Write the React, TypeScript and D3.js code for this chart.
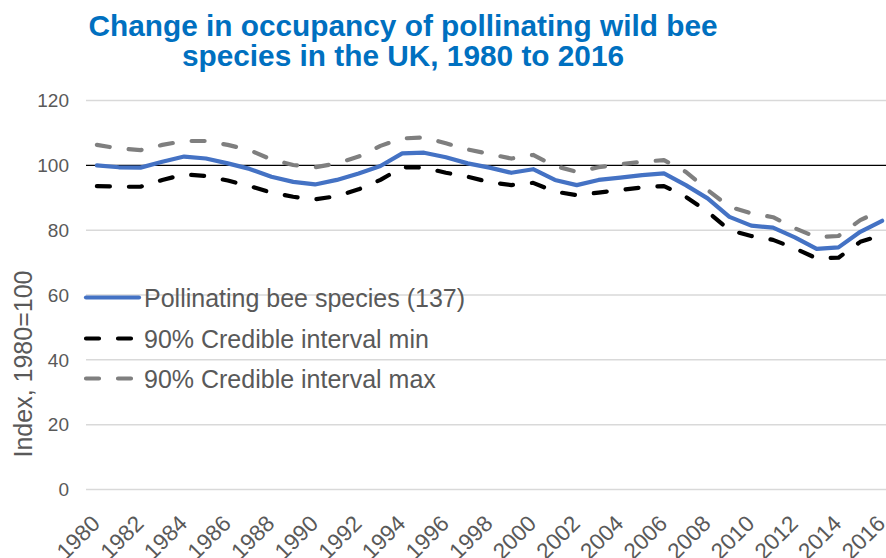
import React from "react";
import * as d3 from "d3";

const years: number[] = d3.range(1980, 2017);
const tickYears: number[] = d3.range(1980, 2017, 2);
const yTicks: number[] = [0, 20, 40, 60, 80, 100, 120];

const beeIndex: number[] = [
  100, 99.4, 99.3, 101.1, 102.7, 102.1, 100.6, 98.9, 96.5, 94.9,
  94.1, 95.5, 97.5, 99.8, 103.7, 103.9, 102.5, 100.6, 99.3, 97.7,
  98.8, 95.5, 93.9, 95.5, 96.2, 97.0, 97.5, 93.9, 89.8, 84.1,
  81.4, 80.8, 77.8, 74.2, 74.7, 79.5, 82.9,
];
const ciMin: number[] = [
  93.6, 93.4, 93.4, 95.5, 97.2, 96.7, 95.3, 93.6, 91.6, 90.3,
  89.5, 90.5, 92.6, 95.5, 99.4, 99.3, 97.7, 96.5, 94.8, 93.9,
  94.6, 91.9, 90.8, 91.6, 92.4, 93.2, 93.6, 90.3, 85.7, 80.0,
  78.2, 77.0, 74.4, 71.3, 71.5, 76.4, 78.5,
];
const ciMax: number[] = [
  106.3, 105.2, 104.7, 106.3, 107.5, 107.5, 106.3, 104.7, 101.8, 100.1,
  99.4, 100.6, 102.7, 106.0, 108.3, 108.6, 106.8, 104.9, 103.5, 102.1,
  103.2, 99.8, 98.0, 99.4, 100.3, 101.1, 101.6, 98.0, 92.4, 87.2,
  85.2, 84.0, 80.6, 77.8, 78.2, 83.1, 86.2,
];

const titleLines: string[] = [
  "Change in occupancy of pollinating wild bee",
  "species in the UK, 1980 to 2016",
];
const yAxisTitle = "Index, 1980=100";
const legendLabels: string[] = [
  "Pollinating bee species (137)",
  "90% Credible interval min",
  "90% Credible interval max",
];

const W = 886;
const H = 558;
const FONT = "'Liberation Sans', Arial, sans-serif";
const TEXT = "#595959";
const BLUE = "#4472C4";
const GRAY = "#7F7F7F";
const DASH = "13 19";

export default function App() {
  const x = d3.scalePoint<number>().domain(years).range([86, 893]).padding(0.5);
  const y = d3.scaleLinear().domain([0, 120]).range([489.5, 100.5]);

  const line = d3
    .line<number>()
    .x((_, i) => x(years[i]) as number)
    .y((d) => y(d));

  const series = [
    { data: ciMin, color: "#000000", dash: DASH },
    { data: ciMax, color: GRAY, dash: DASH },
    { data: beeIndex, color: BLUE, dash: undefined as string | undefined },
  ];

  const legend = [
    { label: legendLabels[0], color: BLUE, dash: undefined as string | undefined, y: 297.5 },
    { label: legendLabels[1], color: "#000000", dash: DASH, y: 338.5 },
    { label: legendLabels[2], color: GRAY, dash: DASH, y: 378.5 },
  ];

  return (
    <svg
      width={W}
      height={H}
      style={{ position: "absolute", left: 0, top: 0, background: "#fff" }}
      fontFamily={FONT}
    >
      <rect width={W} height={H} fill="#fff" />
      {/* title */}
      <text
        x={403}
        textAnchor="middle"
        fontWeight="bold"
        fontSize={29.8}
        fill="#0070C0"
      >
        {titleLines.map((t, i) => (
          <tspan key={i} x={403} y={36 + i * 29.5}>
            {t}
          </tspan>
        ))}
      </text>

      {/* gridlines */}
      {yTicks.map((t) => (
        <line
          key={t}
          x1={86}
          x2={W}
          y1={y(t)}
          y2={y(t)}
          stroke={t === 100 ? "#000" : "#D9D9D9"}
          strokeWidth={t === 100 ? 1.3 : 1.5}
        />
      ))}

      {/* y tick labels */}
      {yTicks.map((t) => (
        <text
          key={t}
          x={69}
          y={y(t) + 6.8}
          textAnchor="end"
          fontSize={19}
          fill={TEXT}
        >
          {t}
        </text>
      ))}

      {/* y axis title */}
      <text
        transform={`translate(32, 364) rotate(-90)`}
        textAnchor="middle"
        fontSize={25}
        fill={TEXT}
      >
        {yAxisTitle}
      </text>

      {/* x tick labels */}
      {tickYears.map((yr) => (
        <text
          key={yr}
          transform={`translate(${(x(yr) as number) + 4.5}, 525) rotate(-45)`}
          textAnchor="end"
          fontSize={22.5}
          fill={TEXT}
        >
          {yr}
        </text>
      ))}

      {/* series */}
      {series.map((s, i) => (
        <path
          key={i}
          d={line(s.data) || ""}
          fill="none"
          stroke={s.color}
          strokeWidth={4.2}
          strokeDasharray={s.dash}
          strokeLinecap="round"
          strokeLinejoin="round"
        />
      ))}

      {/* legend */}
      {legend.map((l, i) => (
        <g key={i}>
          <line
            x1={86}
            x2={139}
            y1={l.y}
            y2={l.y}
            stroke={l.color}
            strokeWidth={4.2}
            strokeDasharray={l.dash}
            strokeLinecap="round"
          />
          <text x={144} y={l.y + 9} fontSize={25} fill={TEXT}>
            {l.label}
          </text>
        </g>
      ))}
    </svg>
  );
}
